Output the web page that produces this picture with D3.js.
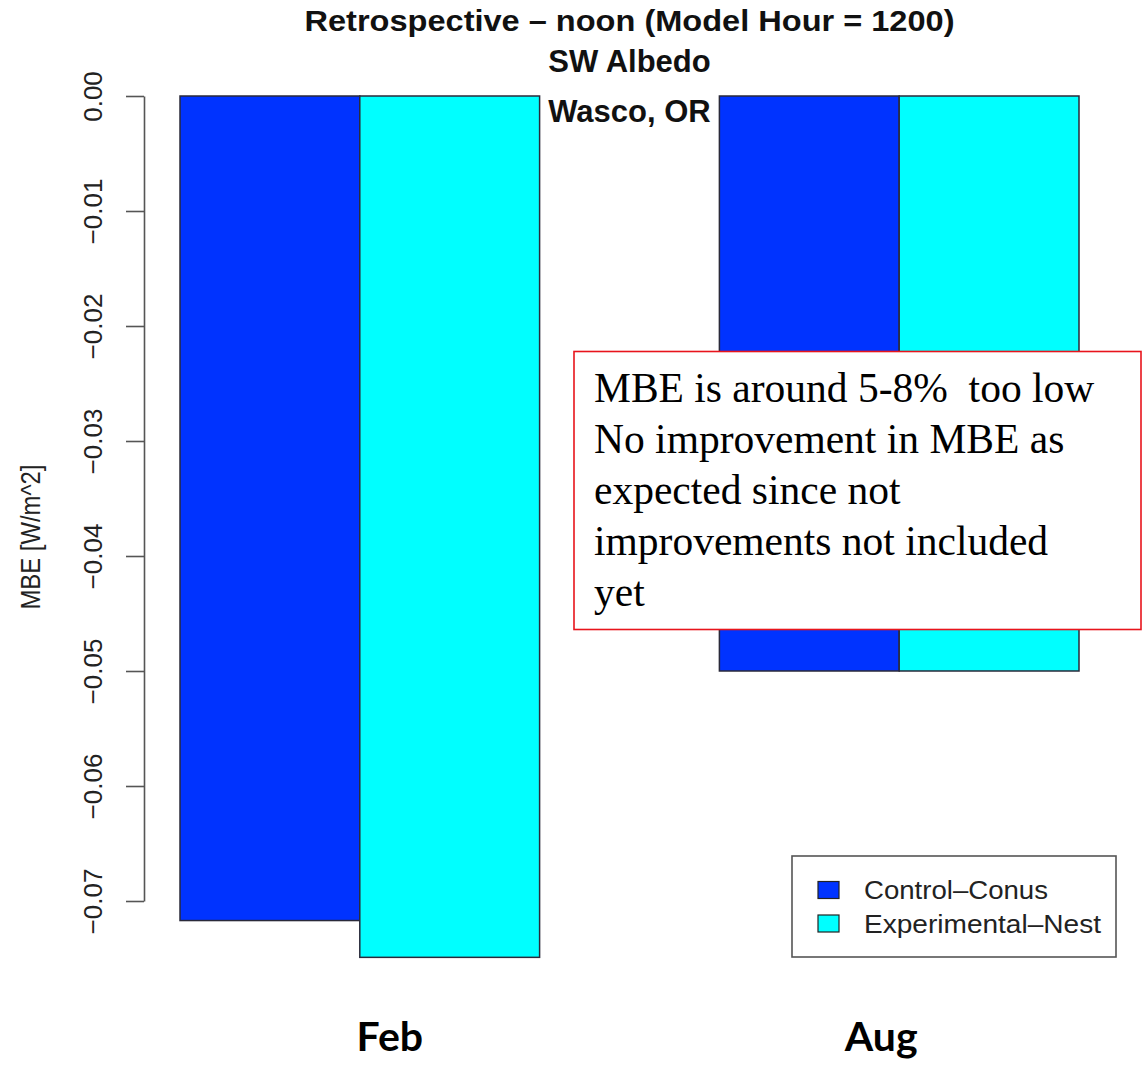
<!DOCTYPE html>
<html>
<head>
<meta charset="utf-8">
<script src="https://cdn.jsdelivr.net/npm/d3@7/dist/d3.min.js"></script>
<style>
  html, body { margin: 0; padding: 0; background: #fff; }
  svg { display: block; }
</style>
</head>
<body>
<svg id="chart" width="1145" height="1066"></svg>
<script>
// ---- data ----
const categories = ["Feb", "Aug"];
const seriesNames = ["Control–Conus", "Experimental–Nest"];
const controlValues = [-0.0717, -0.0500];
const experimentalValues = [-0.0749, -0.0500];
const yTickValues = [0, -0.01, -0.02, -0.03, -0.04, -0.05, -0.06, -0.07];
const yTickLabels = ["0.00", "−0.01", "−0.02", "−0.03", "−0.04", "−0.05", "−0.06", "−0.07"];
const titleLines = ["Retrospective – noon (Model Hour = 1200)", "SW Albedo", "Wasco, OR"];
const yAxisTitle = "MBE [W/m^2]";
const noteLines = ["MBE is around 5-8%  too low", "No improvement in MBE as", "expected since not", "improvements not included", "yet"];
const seriesColors = ["#0033ff", "#00ffff"];

const values = [controlValues, experimentalValues];

const svg = d3.select("#chart");
const sans = "'Liberation Sans', Arial, Helvetica, sans-serif";

// ---- scales ----
const y = d3.scaleLinear().domain([0, -0.07]).range([96, 901]);
const xGroup = d3.scaleBand().domain(categories).range([180, 1079]).paddingInner(1/3).paddingOuter(0);
const xSeries = d3.scaleBand().domain(seriesNames).range([0, xGroup.bandwidth()]).padding(0);

// ---- bars ----
const groups = svg.append("g").selectAll("g")
  .data(categories)
  .join("g")
  .attr("transform", d => `translate(${xGroup(d)},0)`);

groups.selectAll("rect")
  .data((d, i) => seriesNames.map((s, j) => ({ s, j, v: values[j][i] })))
  .join("rect")
  .attr("x", d => xSeries(d.s))
  .attr("y", d => Math.min(y(0), y(d.v)))
  .attr("width", xSeries.bandwidth())
  .attr("height", d => Math.abs(y(d.v) - y(0)))
  .attr("fill", d => seriesColors[d.j])
  .attr("stroke", "#2a2a3a")
  .attr("stroke-width", 1.5);

// ---- y axis ----
const axisG = svg.append("g")
  .attr("transform", "translate(144,0)")
  .call(d3.axisLeft(y).tickValues(yTickValues).tickSize(18).tickSizeOuter(0)
    .tickFormat((d, i) => yTickLabels[i]));
axisG.select(".domain").attr("stroke", "#555").attr("stroke-width", 1.6);
axisG.selectAll(".tick line").attr("stroke", "#555").attr("stroke-width", 1.6);
axisG.selectAll(".tick text")
  .attr("x", null).attr("dy", null)
  .attr("transform", "translate(-42,0) rotate(-90)")
  .attr("text-anchor", "middle")
  .attr("fill", "#222")
  .style("font-family", sans)
  .style("font-size", "26px");

// y axis title
svg.append("text")
  .attr("transform", "translate(40,537) rotate(-90)")
  .attr("text-anchor", "middle")
  .attr("textLength", 145)
  .attr("lengthAdjust", "spacingAndGlyphs")
  .style("font-family", sans)
  .style("font-size", "27px")
  .attr("fill", "#222")
  .text(yAxisTitle);

// ---- titles ----
const cx = (xGroup.range()[0] + xGroup.range()[1]) / 2;
svg.append("text")
  .attr("x", cx).attr("y", 31)
  .attr("text-anchor", "middle")
  .attr("textLength", 650)
  .attr("lengthAdjust", "spacingAndGlyphs")
  .style("font-family", sans).style("font-weight", "bold").style("font-size", "29px")
  .attr("fill", "#111")
  .text(titleLines[0]);
svg.append("text")
  .attr("x", cx).attr("y", 72)
  .attr("text-anchor", "middle")
  .style("font-family", sans).style("font-weight", "bold").style("font-size", "31px")
  .attr("fill", "#111")
  .text(titleLines[1]);
svg.append("text")
  .attr("x", cx).attr("y", 122)
  .attr("text-anchor", "middle")
  .style("font-family", sans).style("font-weight", "bold").style("font-size", "31px")
  .attr("fill", "#111")
  .text(titleLines[2]);

// ---- legend ----
const legend = svg.append("g");
legend.append("rect")
  .attr("x", 792).attr("y", 856).attr("width", 324).attr("height", 101)
  .attr("fill", "#fff").attr("stroke", "#555").attr("stroke-width", 1.6);
const legendRows = [890, 923.5];
const legendWidths = [184, 237];
seriesNames.forEach((s, i) => {
  legend.append("rect")
    .attr("x", 818).attr("y", legendRows[i] - 8.5).attr("width", 21).attr("height", 17)
    .attr("fill", seriesColors[i]).attr("stroke", "#222").attr("stroke-width", 1.2);
  legend.append("text")
    .attr("x", 864).attr("y", legendRows[i] + 9)
    .attr("textLength", legendWidths[i])
    .attr("lengthAdjust", "spacingAndGlyphs")
    .style("font-family", sans).style("font-size", "25px")
    .attr("fill", "#222")
    .text(s);
});

// ---- annotation box ----
const note = svg.append("g");
note.append("rect")
  .attr("x", 574).attr("y", 351.5).attr("width", 567).attr("height", 278)
  .attr("fill", "#fff").attr("stroke", "#e8141c").attr("stroke-width", 1.6);
noteLines.forEach((t, i) => {
  note.append("text")
    .attr("x", 594).attr("y", 402 + i * 51)
    .style("font-family", "'Liberation Serif', 'Times New Roman', serif")
    .style("font-size", "41.5px")
    .style("white-space", "pre")
    .attr("fill", "#000")
    .text(t);
});

// ---- category labels ----
const labelOffsets = [30, -18];
svg.append("g").selectAll("text")
  .data(categories)
  .join("text")
  .attr("x", (d, i) => xGroup(d) + xGroup.bandwidth() / 2 + labelOffsets[i])
  .attr("y", 1051)
  .attr("text-anchor", "middle")
  .style("font-family", "Lato, 'Open Sans', sans-serif")
  .style("font-weight", "bold")
  .style("font-size", "41px")
  .attr("fill", "#000")
  .text(d => d);
</script>
</body>
</html>
